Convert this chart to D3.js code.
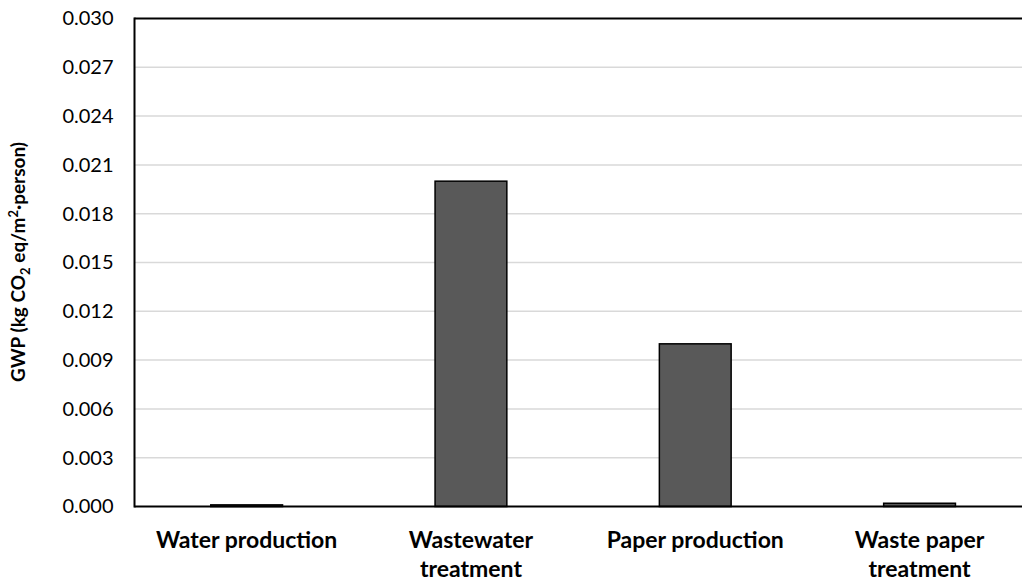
<!DOCTYPE html>
<html><head><meta charset="utf-8">
<script src="https://cdn.jsdelivr.net/npm/d3@7"></script>
<style>body{margin:0;background:#fff}svg{display:block}text{font-family:Lato,"Open Sans",sans-serif;fill:#000}</style>
</head><body>
<svg id="c" width="1022" height="584"></svg>
<script>
const categories = [["Water production"],["Wastewater","treatment"],["Paper production"],["Waste paper","treatment"]];
const values = [0.0001, 0.020, 0.010, 0.0002];
const yTicks = [0,0.003,0.006,0.009,0.012,0.015,0.018,0.021,0.024,0.027,0.030];

const svg = d3.select("#c");
const pLeft = 134.5, pTop = 18.5, pBottom = 506.5, bandRight = 1031.7, visRight = 1022;
const x = d3.scaleBand().domain(d3.range(categories.length)).range([pLeft, bandRight]).paddingInner(0.68).paddingOuter(0.34);
const y = d3.scaleLinear().domain([0,0.030]).range([pBottom, pTop]);

// gridlines
svg.append("g").selectAll("line").data(yTicks.slice(1,-1)).join("line")
  .attr("x1", pLeft).attr("x2", visRight).attr("y1", d=>y(d)).attr("y2", d=>y(d))
  .attr("stroke","#d9d9d9").attr("stroke-width",1.5);

// bars
svg.append("g").selectAll("rect").data(values).join("rect")
  .attr("x",(d,i)=>x(i)).attr("width",x.bandwidth())
  .attr("y",d=>y(d)).attr("height",d=>pBottom-y(d))
  .attr("fill","#595959").attr("stroke","#000").attr("stroke-width",1.5);

// axes lines
svg.append("line").attr("x1",pLeft).attr("x2",visRight).attr("y1",pTop).attr("y2",pTop).attr("stroke","#000").attr("stroke-width",2);
svg.append("line").attr("x1",pLeft).attr("x2",visRight).attr("y1",pBottom).attr("y2",pBottom).attr("stroke","#000").attr("stroke-width",2);
svg.append("line").attr("x1",pLeft).attr("x2",pLeft).attr("y1",pTop-1).attr("y2",pBottom+1).attr("stroke","#000").attr("stroke-width",2);

// y tick labels
const yAxis = d3.axisLeft(y).tickValues(yTicks).tickFormat(d3.format(".3f")).tickSize(0).tickPadding(21);
const ga = svg.append("g").attr("transform",`translate(${pLeft},0)`).call(yAxis);
ga.select(".domain").remove();
ga.selectAll("text").attr("font-size","20px").attr("font-family","Lato, 'Open Sans', sans-serif").attr("fill","#000");

// x labels
const xl = svg.append("g").selectAll("text").data(categories).join("text")
  .attr("text-anchor","middle").attr("font-weight","bold").attr("font-size","23px")
  .attr("x",(d,i)=>x(i)+x.bandwidth()/2).attr("y",548);
xl.each(function(d){
  const t=d3.select(this);
  d.forEach((s,j)=>t.append("tspan").attr("x",t.attr("x")).attr("dy",j?29:0).text(s));
});

// y title
const yt = svg.append("text").attr("transform","translate(25,262) rotate(-90)")
  .attr("text-anchor","middle").attr("font-weight","bold").attr("font-size","19px");
yt.append("tspan").text("GWP (kg CO");
yt.append("tspan").attr("font-size","13px").attr("dy",5).text("2");
yt.append("tspan").attr("dy",-5).text(" eq/m");
yt.append("tspan").attr("font-size","13px").attr("dy",-7).text("2");
yt.append("tspan").attr("dy",7).text("·person)");
</script>
</body></html>
